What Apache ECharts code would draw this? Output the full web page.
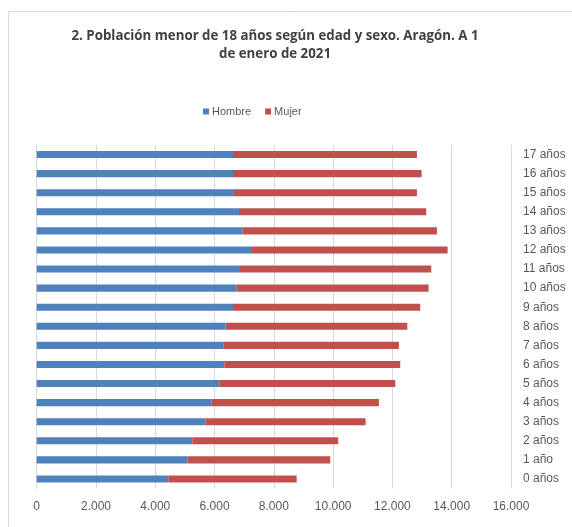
<!DOCTYPE html>
<html>
<head>
<meta charset="utf-8">
<script src="https://cdn.jsdelivr.net/npm/echarts@6/dist/echarts.min.js"></script>
<style>html,body{margin:0;padding:0;background:#fff;}#c{width:572px;height:527px;}</style>
</head>
<body>
<div id="c"></div>
<script>
var categories = ['0 años','1 año','2 años','3 años','4 años','5 años','6 años','7 años','8 años','9 años','10 años','11 años','12 años','13 años','14 años','15 años','16 años','17 años'];
var hombre = [4451,5092,5249,5688,5902,6160,6328,6295,6374,6621,6745,6857,7228,6936,6823,6654,6621,6621];
var mujer  = [4318,4811,4924,5408,5643,5936,5936,5925,6127,6318,6475,6453,6633,6565,6318,6172,6364,6205];
var xTicks = [0,2000,4000,6000,8000,10000,12000,14000,16000];
var titleLines = ['2. Población menor de 18 años según edad y sexo. Aragón. A 1','de enero de 2021'];

var chart = echarts.init(document.getElementById('c'), null, {renderer:'canvas'});
var font = '"Liberation Sans Narrow", "Liberation Sans", sans-serif';
chart.setOption({
  animation:false,
  backgroundColor:'#fff',
  title:{
    text: titleLines.join('\n'),
    left: 270, textAlign:'center', top: 22,
    textStyle:{fontFamily:'"Open Sans", sans-serif', fontSize:13.3, fontWeight:'bold', color:'#404040', lineHeight:18}
  },
  legend:{
    left: 198, top: 101, itemWidth:6, itemHeight:6, itemGap:14,
    icon:'rect',
    textStyle:{fontFamily:font, fontSize:11, color:'#595959', padding:[0,0,0,-2]},
    data:['Hombre','Mujer']
  },
  grid:{left:36.7, right:61, top:145, bottom:38.5, containLabel:false},
  xAxis:{
    type:'value', min:xTicks[0], max:xTicks[xTicks.length-1], interval:2000,
    axisLine:{show:false}, axisTick:{show:false},
    splitLine:{show:true, lineStyle:{color:'#d9d9d9', width:1}},
    axisLabel:{fontFamily:font, fontSize:12, color:'#595959', margin:12,
      formatter:function(v){return v.toString().replace(/\B(?=(\d{3})+(?!\d))/g,'.');}}
  },
  yAxis:{
    type:'category', data:categories, position:'right',
    axisLine:{show:true, lineStyle:{color:'#d9d9d9'}}, axisTick:{show:false},
    axisLabel:{fontFamily:font, fontSize:12, color:'#595959', align:'left', margin:12}
  },
  series:[
    {name:'Hombre', type:'bar', stack:'t', data:hombre, barWidth:'37%', itemStyle:{color:'#4f81bd'}},
    {name:'Mujer', type:'bar', stack:'t', data:mujer, barWidth:'37%', itemStyle:{color:'#c0504d'}}
  ],
  graphic:[
    {type:'polyline', shape:{points:[[8.5,527],[8.5,11.5],[572,11.5]]}, style:{stroke:'#d9d9d9', fill:null, lineWidth:1}, silent:true}
  ]
});
</script>
</body>
</html>
